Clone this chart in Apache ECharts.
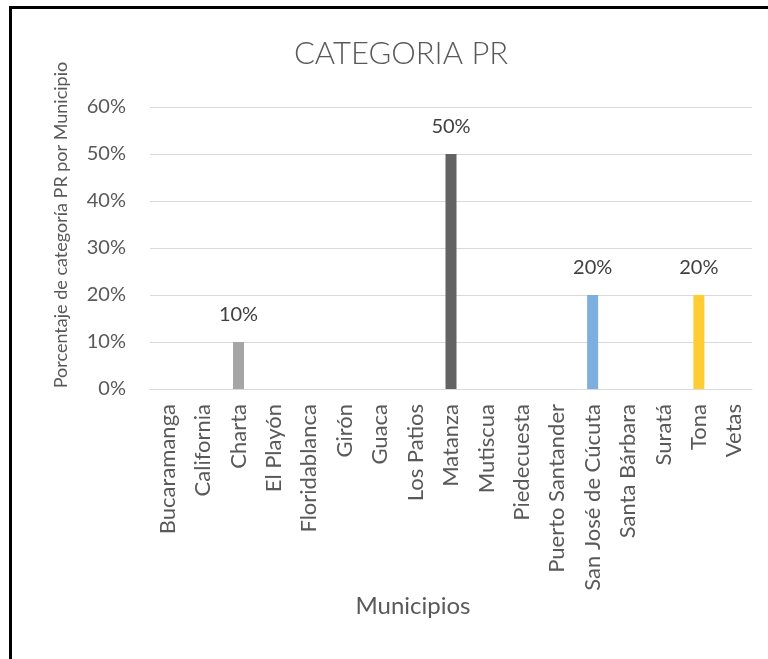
<!DOCTYPE html>
<html>
<head>
<meta charset="utf-8">
<script src="https://cdn.jsdelivr.net/npm/echarts@6/dist/echarts.min.js"></script>
<style>
html,body{margin:0;padding:0;background:#fff;}
#chart{width:768px;height:659px;}
</style>
</head>
<body>
<div id="chart"></div>
<script>
const categories = ['Bucaramanga','California','Charta','El Playón','Floridablanca','Girón','Guaca','Los Patios','Matanza','Mutiscua','Piedecuesta','Puerto Santander','San José de Cúcuta','Santa Bárbara','Suratá','Tona','Vetas'];
const values = [0, 0, 0.10, 0, 0, 0, 0, 0, 0.50, 0, 0, 0, 0.20, 0, 0, 0.20, 0];
const yTicks = [0, 0.1, 0.2, 0.3, 0.4, 0.5, 0.6];
const palette = ['#5B9BD5','#ED7D31','#A5A5A5','#FFC000','#4472C4','#70AD47','#255E91','#9E480E','#636363','#997300','#264478','#43682B','#7CAFDD','#F1975A','#B7B7B7','#FFCD33','#698ED0'];

const FONT = 'Lato';
const chart = echarts.init(document.getElementById('chart'));
chart.setOption({
  backgroundColor: '#fff',
  animation: false,
  title: {
    text: 'CATEGORIA PR',
    left: 396, top: 33, textAlign: 'center',
    textStyle: {fontFamily: FONT, fontSize: 31, fontWeight: 300, color: '#595959'}
  },
  graphic: [
    {type: 'line', shape: {x1: 10.5, y1: 6, x2: 10.5, y2: 659}, style: {stroke: '#000', lineWidth: 3}},
    {type: 'line', shape: {x1: 9, y1: 7.5, x2: 768, y2: 7.5}, style: {stroke: '#000', lineWidth: 3}}
  ],
  grid: {left: 150, right: 16, top: 107, bottom: 270},
  xAxis: {
    type: 'category',
    data: categories,
    name: 'Municipios',
    nameLocation: 'middle',
    nameGap: 203,
    nameTextStyle: {fontFamily: FONT, fontSize: 24, color: '#595959', verticalAlign: 'top', padding: [0, 76, 0, 0]},
    axisLine: {lineStyle: {color: '#D9D9D9'}},
    axisTick: {show: false},
    axisLabel: {rotate: 90, interval: 0, margin: 15, fontFamily: FONT, fontSize: 22, color: '#595959'}
  },
  yAxis: {
    type: 'value',
    min: yTicks[0], max: yTicks[yTicks.length - 1], interval: 0.1,
    name: 'Porcentaje de categoría PR por Municipio',
    nameLocation: 'middle',
    nameGap: 80,
    nameTextStyle: {fontFamily: FONT, fontSize: 18, color: '#595959', padding: [0, 0, 0, 46]},
    axisLine: {show: false},
    axisTick: {show: false},
    splitLine: {lineStyle: {color: '#D9D9D9'}},
    axisLabel: {margin: 24, fontFamily: FONT, fontSize: 20, color: '#595959',
      formatter: v => Math.round(v * 100) + '%'}
  },
  series: [{
    type: 'bar',
    data: values,
    barWidth: 11,
    itemStyle: {color: p => palette[p.dataIndex % palette.length]},
    label: {
      show: true, position: 'top', distance: 17,
      fontFamily: FONT, fontSize: 20, color: '#404040',
      formatter: p => p.value > 0 ? Math.round(p.value * 100) + '%' : ''
    }
  }]
});
</script>
</body>
</html>
